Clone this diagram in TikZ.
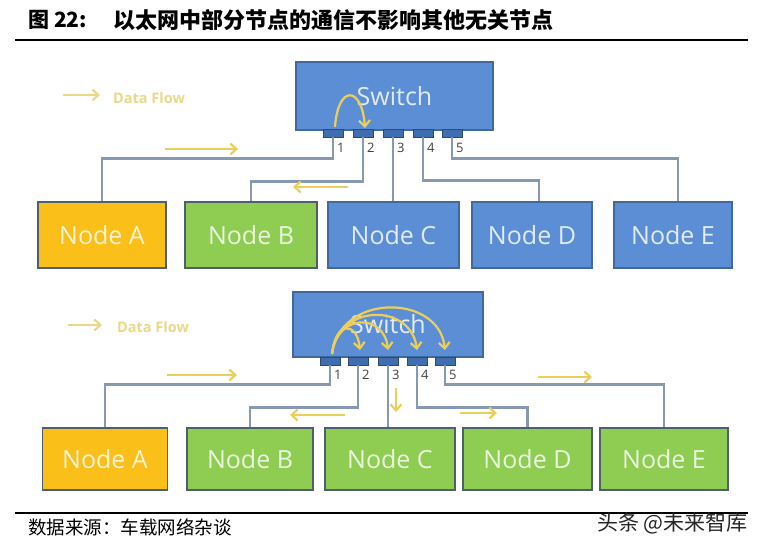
\documentclass[tikz,border=0pt]{standalone}
\usepackage{fontspec}
\setmainfont{Open Sans}
\newfontfamily\cjk{Noto Sans CJK SC}
\newfontfamily\osans{Open Sans}
\usetikzlibrary{arrows.meta,calc}
\definecolor{swblue}{HTML}{5B8ED5}
\definecolor{bdblue}{HTML}{41699C}
\definecolor{bdgrey}{HTML}{4E5F6E}
\definecolor{portblue}{HTML}{3E6EB0}
\definecolor{nodeorange}{HTML}{FBBF1A}
\definecolor{nodegreen}{HTML}{8FCC52}
\definecolor{wire}{HTML}{8799B2}
\definecolor{flow}{HTML}{EBCF58}
\definecolor{flowlight}{HTML}{EAD98A}
\tikzset{
  box/.style={line width=1.6pt, inner sep=0pt, font=\osans\fontsize{25}{28}\selectfont, text=white, text opacity=0.82},
  bluebox/.style={box, draw=bdblue, fill=swblue},
  orangebox/.style={box, draw=bdgrey, fill=nodeorange},
  greenbox/.style={box, draw=bdgrey, fill=nodegreen},
  port/.style={draw=bdblue!70!black, fill=portblue, line width=0.8pt, minimum width=20pt, minimum height=8pt, inner sep=0pt},
  wireline/.style={draw=wire, line width=2.6pt},
  flowarrow/.style={draw=flow, line width=2.2pt, -{Straight Barb[length=6pt,width=11pt]}},
  legendarrow/.style={draw=flowlight, line width=2.2pt, -{Straight Barb[length=6pt,width=11pt]}},
  portlabel/.style={font=\osans\fontsize{13}{14}\selectfont, text=black!75, inner sep=0pt, anchor=west},
  legendtext/.style={font=\osans\bfseries\fontsize{14.5}{17}\selectfont, text=flowlight, inner sep=0pt, anchor=west},
}
\begin{document}
\begin{tikzpicture}[x=1pt,y=-1pt]
\useasboundingbox (0,0) rectangle (761,553);
\fill[white] (0,0) rectangle (761,553);

% title and rules
\node[font=\cjk\bfseries\fontsize{21}{24}\selectfont, anchor=west, inner sep=0pt] (tnum) at (28,20) {图\ 22:};
\node[font=\cjk\bfseries\fontsize{22}{24}\selectfont, anchor=west, inner sep=0pt] (ttext) at (113,20) {以太网中部分节点的通信不影响其他无关节点};
\draw[line width=2.5pt] (15,40) -- (748,40);
\draw[line width=2.5pt] (15,513) -- (748,513);
\node[font=\cjk\fontsize{18.5}{20}\selectfont, anchor=west, inner sep=0pt] (src) at (28,527) {数据来源：车载网络杂谈};
\node[font=\cjk\fontsize{21}{23}\selectfont, anchor=east, inner sep=0pt, text=black!85] (wm) at (748,523) {头条 @未来智库};

% ===== top diagram =====
\draw[legendarrow] (63,95) -- (100,95);
\node[legendtext] (tleg) at (113,98) {Data Flow};

\node[bluebox, minimum width=197pt, minimum height=68pt] (tsw) at (394.5,96) {Switch};
\node[port] (tp1) at (333,133) {};
\node[port] (tp2) at (363,133) {};
\node[port] (tp3) at (393,133) {};
\node[port] (tp4) at (423,133) {};
\node[port] (tp5) at (452,133) {};

\node[orangebox, minimum width=128pt, minimum height=66pt] (tA) at (102,235) {Node A};
\node[greenbox, minimum width=132pt, minimum height=66pt] (tB) at (251,235) {Node B};
\node[bluebox, minimum width=131pt, minimum height=66pt] (tC) at (393.5,235) {Node C};
\node[bluebox, minimum width=120pt, minimum height=66pt] (tD) at (532,235) {Node D};
\node[bluebox, minimum width=118pt, minimum height=66pt] (tE) at (673,235) {Node E};

\draw[wireline] (tp1.south) -- ++(0,21) -| (tA.north);
\draw[wireline] (tp2.south) -- ++(0,44) -| (tB.north);
\draw[wireline] (tp3.south) -- (tp3.south |- tC.north);
\draw[wireline] (tp4.south) -- ++(0,43) -| ([xshift=7pt]tD.north);
\draw[wireline] (tp5.south) -- ++(0,21) -| ([xshift=5pt]tE.north);

\node[portlabel] (tl1) at (337,148) {1};
\node[portlabel] (tl2) at (367,148) {2};
\node[portlabel] (tl3) at (397,148) {3};
\node[portlabel] (tl4) at (427,148) {4};
\node[portlabel] (tl5) at (456,148) {5};

\draw[flowarrow] (165,149) -- (238,149);
\draw[flowarrow] (348,187) -- (293,187);
\draw[flowarrow] (335,127) .. controls (338,84) and (362,86) .. (365,128);

% ===== bottom diagram =====
\draw[legendarrow] (68,325) -- (102,325);
\node[legendtext] (bleg) at (117,327) {Data Flow};

\node[bluebox, minimum width=190pt, minimum height=65pt] (bsw) at (388,324.5) {Switch};
\node[port] (bp1) at (330,361) {};
\node[port] (bp2) at (358,361) {};
\node[port] (bp3) at (388,361) {};
\node[port] (bp4) at (417,361) {};
\node[port] (bp5) at (445,361) {};

\node[orangebox, minimum width=125pt, minimum height=62pt] (bA) at (105,459) {Node A};
\node[greenbox, minimum width=126pt, minimum height=62pt] (bB) at (250,459) {Node B};
\node[greenbox, minimum width=130pt, minimum height=62pt] (bC) at (390,459) {Node C};
\node[greenbox, minimum width=129pt, minimum height=62pt] (bD) at (527.5,459) {Node D};
\node[greenbox, minimum width=128pt, minimum height=62pt] (bE) at (664,459) {Node E};

\draw[wireline] (bp1.south) -- ++(0,19) -| (bA.north);
\draw[wireline] (bp2.south) -- ++(0,42) -| (bB.north);
\draw[wireline] (bp3.south) -- (bp3.south |- bC.north);
\draw[wireline] (bp4.south) -- ++(0,42) -| (bD.north);
\draw[wireline] (bp5.south) -- ++(0,19) -| (bE.north);

\node[portlabel] (bl1) at (334,375) {1};
\node[portlabel] (bl2) at (362,375) {2};
\node[portlabel] (bl3) at (392,375) {3};
\node[portlabel] (bl4) at (421,375) {4};
\node[portlabel] (bl5) at (449,375) {5};

\draw[flowarrow] (167,375) -- (237,375);
\draw[flowarrow] (345,415) -- (290,415);
\draw[flowarrow] (396,388) -- (396,412);
\draw[flowarrow] (460,413) -- (497,413);
\draw[flowarrow] (538,377) -- (592,377);

\draw[flowarrow] (332,354) .. controls (335,321) and (357,321) .. (360,350);
\draw[flowarrow] (332,354) .. controls (337,313) and (384,313) .. (388,350);
\draw[flowarrow] (332,354) .. controls (338,303) and (411,303) .. (417,350);
\draw[flowarrow] (332,354) .. controls (339,293) and (439,293) .. (445,350);
\end{tikzpicture}
\end{document}
